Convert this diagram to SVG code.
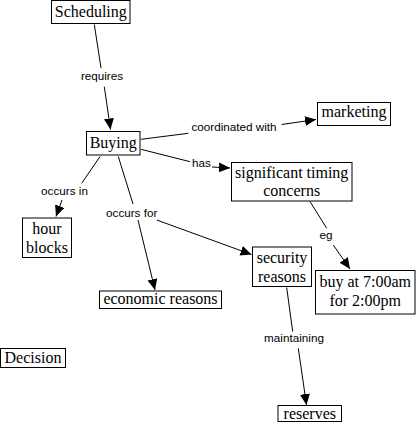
<svg xmlns="http://www.w3.org/2000/svg" width="417" height="425" viewBox="0 0 417 425">
<style>
rect.n{fill:#fff;stroke:#000;stroke-width:1}
text.n{font-family:"Liberation Serif",serif;font-size:16px;fill:#000;text-anchor:middle}
text.l{font-family:"Liberation Sans",Arial,sans-serif;font-size:11.7px;fill:#000;text-anchor:middle}
line{stroke:#000;stroke-width:1}
line.a{marker-end:url(#ah)}
</style>
<defs>
<marker id="ah" markerUnits="userSpaceOnUse" markerWidth="12" markerHeight="11" refX="11" refY="5" orient="auto" viewBox="0 0 12 11">
<path d="M0,0 L11,5 L0,10 z" fill="#000"/>
</marker>
</defs>
<rect width="417" height="425" fill="#fff"/>
<g id="connectors">
<line x1="94.3" y1="24.5" x2="101" y2="68"/>
<line class="a" x1="104.3" y1="86.7" x2="110.5" y2="129.5"/>
<line x1="141" y1="139.3" x2="188.3" y2="133.3"/>
<line class="a" x1="281.7" y1="124.5" x2="316" y2="119.5"/>
<line x1="141" y1="149.3" x2="190" y2="161.7"/>
<line class="a" x1="212" y1="167" x2="230" y2="168"/>
<line x1="100" y1="156.5" x2="81.7" y2="183.3"/>
<line class="a" x1="62" y1="200" x2="56" y2="216.5"/>
<line x1="118.3" y1="156.5" x2="133" y2="204"/>
<line class="a" x1="138" y1="220" x2="155" y2="290"/>
<line class="a" x1="156.7" y1="220" x2="251.5" y2="254.5"/>
<line x1="310" y1="201.5" x2="326.7" y2="228.3"/>
<line class="a" x1="333.3" y1="245" x2="350" y2="269"/>
<line x1="286.7" y1="287.5" x2="292.7" y2="331.7"/>
<line class="a" x1="298.3" y1="348.3" x2="306.5" y2="405"/>
</g>
<g id="labels">
<text class="l" x="102" y="79.5">requires</text>
<text class="l" x="234" y="131">coordinated with</text>
<text class="l" x="201.5" y="166.5">has</text>
<text class="l" x="64.5" y="195">occurs in</text>
<text class="l" x="131.7" y="216.8">occurs for</text>
<text class="l" x="326" y="239.3">eg</text>
<text class="l" x="294" y="341.7">maintaining</text>
</g>
<g id="scheduling"><rect class="n" x="51.5" y="0.5" width="78.5" height="23"/><text class="n" x="90.8" y="16.7">Scheduling</text></g>
<g id="buying"><rect class="n" x="86.5" y="131.5" width="53.5" height="23.5"/><text class="n" x="113.2" y="147.5">Buying</text></g>
<g id="marketing"><rect class="n" x="317.5" y="102.5" width="73" height="23"/><text class="n" x="354" y="117">marketing</text></g>
<g id="timing"><rect class="n" x="231.5" y="162.5" width="120.5" height="38.5"/><text class="n" x="291.7" y="177.6">significant timing</text><text class="n" x="291.7" y="196">concerns</text></g>
<g id="hourblocks"><rect class="n" x="22.5" y="218" width="49" height="39.5"/><text class="n" x="47" y="233.5">hour</text><text class="n" x="47" y="253">blocks</text></g>
<g id="economic"><rect class="n" x="99.5" y="291" width="122" height="17.5"/><text class="n" x="160.5" y="304">economic reasons</text></g>
<g id="security"><rect class="n" x="252.5" y="247" width="59" height="39.5"/><text class="n" x="282" y="263.3">security</text><text class="n" x="282" y="281.7">reasons</text></g>
<g id="buyat"><rect class="n" x="315.5" y="270.5" width="99.5" height="43.5"/><text class="n" x="365.2" y="287.3">buy at 7:00am</text><text class="n" x="365.2" y="306">for 2:00pm</text></g>
<g id="reserves"><rect class="n" x="278" y="405.5" width="63.5" height="16"/><text class="n" x="309.8" y="419">reserves</text></g>
<g id="decision"><rect class="n" x="0.5" y="348.5" width="65" height="19"/><text class="n" x="33" y="363.3">Decision</text></g>
</svg>
